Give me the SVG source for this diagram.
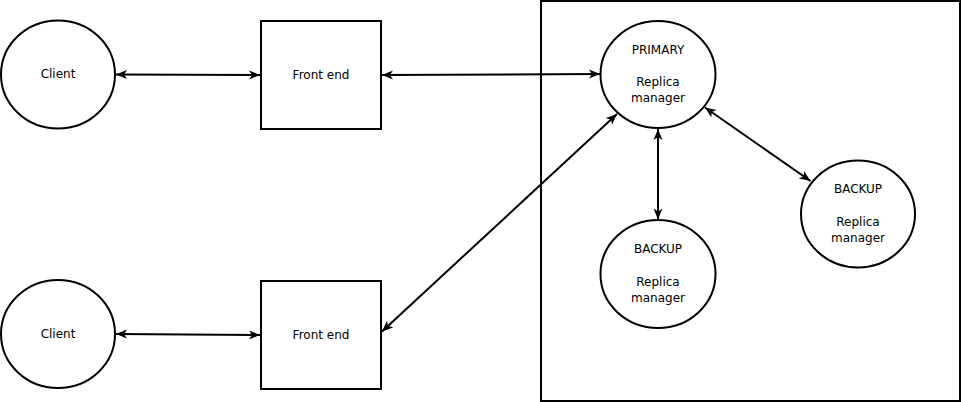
<svg xmlns="http://www.w3.org/2000/svg" width="961" height="402" viewBox="0 0 961 402">
<style>
.shape{fill:#fff;stroke:#000;stroke-width:2}
.cont{fill:none;stroke:#000;stroke-width:2}
.edge{fill:none;stroke:#000;stroke-width:2}
text{font-family:"DejaVu Sans","Liberation Sans",sans-serif;font-size:12px;fill:#000;text-anchor:middle}
</style>
<defs>
<marker id="arr" markerUnits="userSpaceOnUse" markerWidth="12" markerHeight="10" viewBox="0 0 12 10" refX="11" refY="5" orient="auto-start-reverse">
<path d="M0,0.5 L11,5 L0,9.5 L3,5 Z" fill="#000"/>
</marker>
</defs>
<rect width="961" height="402" fill="#fff"/>
<g id="replica-group"><rect class="cont" x="541" y="1" width="419" height="400"/></g>
<g id="client1"><ellipse class="shape" cx="58" cy="74.5" rx="57" ry="54"/><text x="58" y="78">Client</text></g>
<g id="frontend1"><rect class="shape" x="261" y="21" width="120" height="108"/><text x="321" y="79">Front end</text></g>
<g id="client2"><ellipse class="shape" cx="58" cy="334" rx="57" ry="54"/><text x="58" y="338">Client</text></g>
<g id="frontend2"><rect class="shape" x="261" y="281" width="120" height="108"/><text x="321" y="339">Front end</text></g>
<g id="primary"><ellipse class="shape" cx="658" cy="74.5" rx="57.5" ry="53.5"/><text x="658" y="54">PRIMARY</text><text x="658" y="86">Replica</text><text x="658" y="102">manager</text></g>
<g id="backup1"><ellipse class="shape" cx="658" cy="274" rx="57.5" ry="54"/><text x="658" y="253">BACKUP</text><text x="658" y="286">Replica</text><text x="658" y="302">manager</text></g>
<g id="backup2"><ellipse class="shape" cx="858" cy="214" rx="57" ry="53.5"/><text x="858" y="193">BACKUP</text><text x="858" y="226">Replica</text><text x="858" y="242">manager</text></g>
<g id="connectors">
<line class="edge" x1="116" y1="74.5" x2="260" y2="75" marker-start="url(#arr)" marker-end="url(#arr)"/>
<line class="edge" x1="116" y1="334" x2="260" y2="335" marker-start="url(#arr)" marker-end="url(#arr)"/>
<line class="edge" x1="382" y1="75" x2="600" y2="74" marker-start="url(#arr)" marker-end="url(#arr)"/>
<line class="edge" x1="382" y1="331.5" x2="617" y2="114" marker-start="url(#arr)" marker-end="url(#arr)"/>
<line class="edge" x1="658" y1="129" x2="658" y2="219.5" marker-start="url(#arr)" marker-end="url(#arr)"/>
<line class="edge" x1="705" y1="107.5" x2="810.5" y2="181" marker-start="url(#arr)" marker-end="url(#arr)"/>
</g>
</svg>
